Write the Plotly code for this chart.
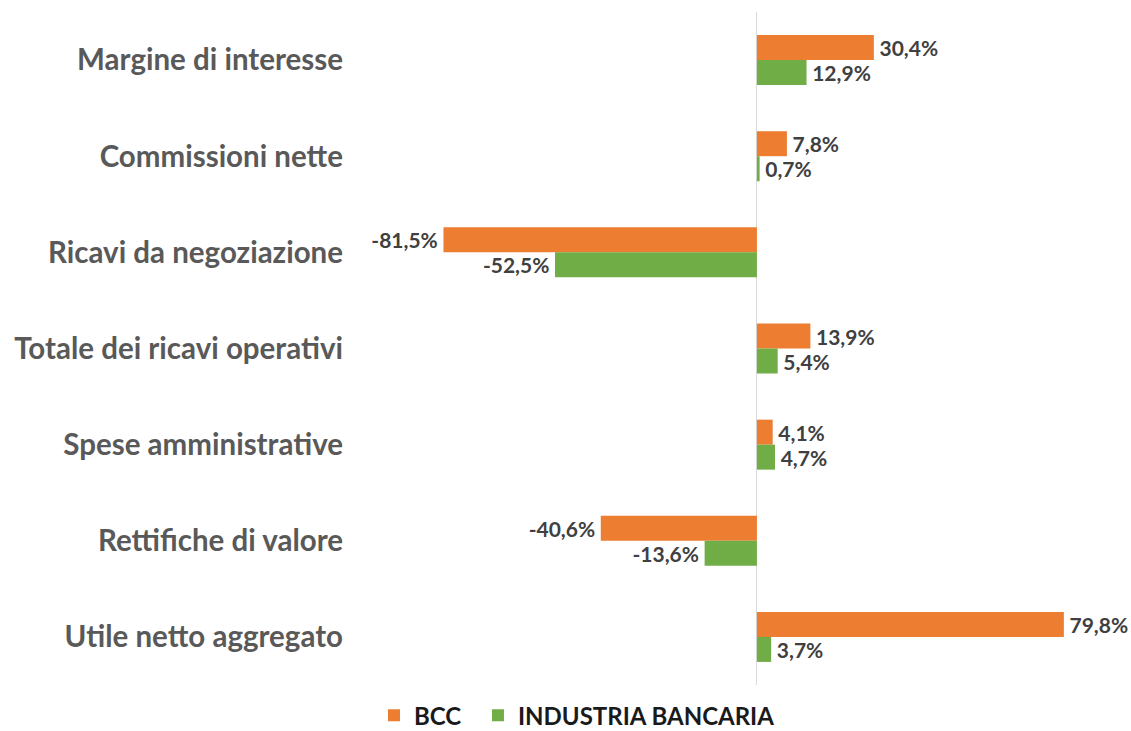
"""
Variazioni % voci di conto economico: BCC vs industria bancaria.
"""
import plotly.graph_objects as go

# ─── Dati ─────────────────────────────────────────────────────────────────────
categorie = [
    "Margine di interesse",
    "Commissioni nette",
    "Ricavi da negoziazione",
    "Totale dei ricavi operativi",
    "Spese amministrative",
    "Rettifiche di valore",
    "Utile netto aggregato",
]
bcc = [30.4, 7.8, -81.5, 13.9, 4.1, -40.6, 79.8]
industria = [12.9, 0.7, -52.5, 5.4, 4.7, -13.6, 3.7]

# ─── Farby ────────────────────────────────────────────────────────────────────
C_BCC = "#ED7D31"
C_IND = "#70AD47"
C_TXT = "#404040"
C_CAT = "#595959"
FONT = "Lato, 'Open Sans', sans-serif"


def _lbl(vals):
    # tenká medzera na strane stĺpca -> väčší odstup textu
    out = []
    for v in vals:
        s = f"{v:.1f}%".replace(".", ",")
        out.append("\u2009" + s if v >= 0 else s + "\u2009")
    return out


fig = go.Figure()
for name, vals, color, leg in [("BCC", bcc, C_BCC, "legend"),
                               ("INDUSTRIA BANCARIA", industria, C_IND, "legend2")]:
    fig.add_trace(go.Bar(
        y=categorie, x=vals, name=name, orientation="h",
        legend=leg, showlegend=True,
        marker=dict(color=color, line=dict(width=0)),
        text=_lbl(vals), textposition="outside", cliponaxis=False,
        textfont=dict(family=FONT, size=21, color=C_TXT, weight="bold"),
    ))

leg_common = dict(orientation="h", xref="container", yref="container",
                  xanchor="left", y=0.021, yanchor="middle",
                  bgcolor="rgba(0,0,0,0)",
                  font=dict(family=FONT, size=24, color="#1a1a1a", weight="bold"),
                  itemwidth=30)

fig.update_layout(
    width=1131, height=731,
    barmode="group", bargap=0.48, bargroupgap=0,
    margin=dict(l=350, r=11, t=12, b=46, autoexpand=False),
    plot_bgcolor="white", paper_bgcolor="white",
    font=dict(family=FONT),
    xaxis=dict(range=[-105.8, 94.4], showticklabels=False, showgrid=False,
               zeroline=True, zerolinecolor="#d9d9d9", zerolinewidth=1),
    yaxis=dict(autorange="reversed", showgrid=False, ticks="", ticklabelstandoff=6,
               tickfont=dict(family=FONT, size=29.5, color=C_CAT, weight="bold")),
    legend=dict(x=0.3307, **leg_common),
    legend2=dict(x=0.4226, **leg_common),
)

# bez okraja body, aby figúra sedela presne na okno
fig.write_html("out.html", config={"displayModeBar": False},
               post_script="document.body.style.margin='0';")
